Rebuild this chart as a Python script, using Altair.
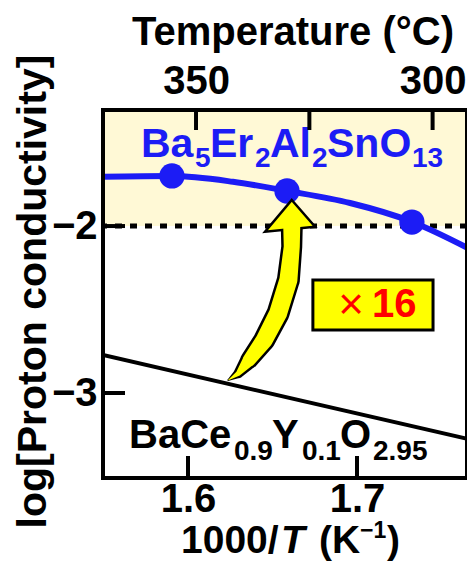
import altair as alt
import pandas as pd

FONT = "Liberation Sans"
BLUE = "#1c1cf5"

# ---- data ----
fit_x = [1.5497, 1.5904, 1.6266, 1.6584, 1.6959, 1.7324, 1.7680]
fit_y = [-1.705, -1.701, -1.735, -1.789, -1.862, -1.974, -2.144]
pts_x = [1.5905, 1.6586, 1.7325]
pts_y = [-1.700, -1.790, -1.976]
bcy_x = [1.5497, 1.7680]
bcy_y = [-2.772, -3.281]
x_ticks = [1.6, 1.7]
y_ticks = [-2, -3]
temp_ticks = [350, 325, 300]
# curved arrow (annotation) path, top to bottom, with total width in px
arrow_x = [1.6614, 1.6614, 1.6594, 1.6533, 1.6451, 1.6362, 1.6298, 1.6239]
arrow_y = [-2.000, -2.124, -2.323, -2.523, -2.683, -2.802, -2.882, -2.922]
arrow_w = [22, 21, 23, 23, 22, 18, 10, 2]
head_x = [1.6604]
head_y = [-1.934]
box_x = [1.6739, 1.7450]
box_y = [-2.323, -2.623]

W, H = 364, 368
OX, OY = 103, 110
xs = alt.Scale(domain=[1.5497, 1.7651], nice=False, zero=False)
ys = alt.Scale(domain=[-3.509, -1.305], nice=False, zero=False)


def X(f, axis=None):
    return alt.X(f, type="quantitative", scale=xs, axis=axis)


def Y(f, axis=None):
    return alt.Y(f, type="quantitative", scale=ys, axis=axis)


one = alt.Data(values=[{"t": 1}])

bg = alt.Chart(pd.DataFrame({"v": [-2]})).mark_rect(color="#FFF9D6").encode(
    x=alt.value(0), x2=alt.value(W), y=Y("v"), y2=alt.value(0))

dotted = alt.Chart(pd.DataFrame({"v": [-2]})).mark_rule(
    color="black", strokeWidth=5, strokeDash=[7, 8], strokeDashOffset=3).encode(
    y=Y("v"), x=alt.value(0), x2=alt.value(W))

bcy = alt.Chart(pd.DataFrame({"x": bcy_x, "y": bcy_y})).mark_line(
    color="black", strokeWidth=4, clip=True).encode(x=X("x"), y=Y("y"))

fit = alt.Chart(pd.DataFrame({"x": fit_x, "y": fit_y})).mark_line(
    color=BLUE, strokeWidth=6, interpolate="monotone", clip=True).encode(x=X("x"), y=Y("y"))

pts = alt.Chart(pd.DataFrame({"x": pts_x, "y": pts_y})).mark_point(
    filled=True, color=BLUE, size=640, opacity=1).encode(x=X("x"), y=Y("y"))

adf = pd.DataFrame({"x": arrow_x, "y": arrow_y, "w": arrow_w,
                    "wi": [max(w - 5, 0.5) for w in arrow_w], "i": list(range(len(arrow_x)))})
arrow_out = alt.Chart(adf).mark_trail(color="black").encode(
    x=X("x"), y=Y("y"), size=alt.Size("w:Q", scale=None), order=alt.Order("i:Q"))
arrow_in = alt.Chart(adf).mark_trail(color="#FFFF00").encode(
    x=X("x"), y=Y("y"), size=alt.Size("wi:Q", scale=None), order=alt.Order("i:Q"))
head = alt.Chart(pd.DataFrame({"x": head_x, "y": head_y})).mark_point(
    shape="M0.068,-0.6L1,0.468L-1,0.668Z", size=2500, filled=True, fill="#FFFF00",
    stroke="black", strokeWidth=2.5, opacity=1, fillOpacity=1, strokeJoin="miter").encode(
    x=X("x"), y=Y("y"))

box = alt.Chart(pd.DataFrame({"x": [box_x[0]], "x2": [box_x[1]], "y": [box_y[0]], "y2": [box_y[1]]})).mark_rect(
    fill="#FFFF00", stroke="black", strokeWidth=3).encode(
    x=X("x"), x2="x2", y=Y("y"), y2="y2")


def seg(t, px, py, size, color="black", weight="bold", style="normal", align="left"):
    return alt.Chart(alt.Data(values=[{"t": t}])).mark_text(
        font=FONT, fontSize=size, fontWeight=weight, fontStyle=style, color=color,
        align=align, baseline="alphabetic").encode(
        text="t:N", x=alt.value(px - OX), y=alt.value(py - OY))


texts = [
    seg("Temperature (°C)", 293, 45, 40, align="center"),
    seg("Ba", 141, 157, 41, BLUE), seg("5", 195, 167, 28, BLUE),
    seg("Er", 210, 157, 41, BLUE), seg("2", 255, 167, 28, BLUE),
    seg("Al", 270, 157, 41, BLUE), seg("2", 312, 167, 28, BLUE),
    seg("SnO", 327, 157, 41, BLUE), seg("13", 412, 167, 28, BLUE),
    seg("BaCe", 129, 448, 40), seg("0.9", 234, 460, 28),
    seg("Y", 272, 448, 40), seg("0.1", 302, 460, 28),
    seg("O", 340, 448, 40), seg("2.95", 373, 460, 28),
    seg("×", 351, 319, 44, "#FF0000", weight="normal", align="center"),
    seg("16", 372, 317, 40, "#FF0000"),
    seg("1000/", 181, 553, 39), seg("T", 281, 553, 39, style="italic"),
    seg("(K", 319, 553, 39), seg("−1", 360, 538, 23), seg(")", 387, 553, 39),
]

lab = dict(labelFont=FONT, labelFontSize=40, labelFontWeight="bold", labelColor="black",
           ticks=False, tickSize=0, domain=False, grid=False, labelOverlap=False, labelFlush=False)

bottom_ax = alt.Axis(values=x_ticks, format=".1f", labelBaseline="alphabetic", labelPadding=33,
                     title=None, **lab)
top_ax = alt.Axis(orient="top", values=[1000 / (t + 273.15) for t in temp_ticks],
                  labelExpr="round(1000/datum.value-273.15) == 325 ? '' : toString(round(1000/datum.value-273.15))",
                  labelBaseline="alphabetic", labelPadding=17, title=None, **lab)
left_ax = alt.Axis(values=y_ticks, labelPadding=6, title="log[Proton conductivity]",
                   titleFont=FONT, titleFontSize=41, titleFontWeight="bold", titleColor="black",
                   titleAngle=270, titleX=-58, titleY=H / 2 - 3, titleBaseline="alphabetic",
                   titleAlign="center", **lab)

tick_b = alt.Chart(pd.DataFrame({"v": x_ticks})).mark_rule(color="black", strokeWidth=4).encode(
    x=X("v", bottom_ax), y=alt.value(H), y2=alt.value(H - 22))
tick_t = alt.Chart(pd.DataFrame({"v": [1000 / (t + 273.15) for t in temp_ticks]})).mark_rule(
    color="black", strokeWidth=4).encode(x=X("v", top_ax), y=alt.value(0), y2=alt.value(20))
tick_l = alt.Chart(pd.DataFrame({"v": y_ticks})).mark_rule(color="black", strokeWidth=4).encode(
    y=Y("v", left_ax), x=alt.value(0), x2=alt.value(22))

frame = alt.Chart(one).mark_rect(fillOpacity=0, stroke="black", strokeWidth=4).encode(
    x=alt.value(0), x2=alt.value(W), y=alt.value(0), y2=alt.value(H))

chart = alt.layer(
    bg, dotted, bcy, fit, pts, arrow_out, head, arrow_in, box, *texts, tick_b, tick_t, tick_l, frame
).resolve_axis(x="independent", y="independent").properties(
    width=W, height=H,
    autosize=alt.AutoSizeParams(type="none"),
    padding={"left": 95, "top": 102, "right": 0, "bottom": 83},
).configure_view(stroke=None).configure(background="white")

chart.save("out.html", embed_options={"renderer": "svg", "actions": False})
